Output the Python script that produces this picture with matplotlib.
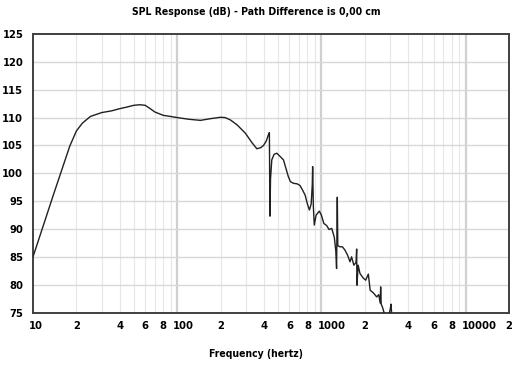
import numpy as np
import matplotlib.pyplot as plt
import matplotlib.transforms as mtransforms

# SPL response
freq = [10, 14, 18, 20, 22, 25, 30, 35, 40, 45, 50, 55, 60, 65, 70, 80, 90,
        100, 120, 145, 170, 199, 215, 233, 260, 297, 330, 357, 380, 397, 415,
        429, 436, 440, 444, 453, 470, 491, 518, 546, 590, 610, 640, 680, 711,
        740, 771, 800, 826, 850, 865, 870, 880, 893, 920, 968, 1000, 1040,
        1089, 1130, 1180, 1230, 1260, 1275, 1290, 1300, 1346, 1400, 1458,
        1520, 1580, 1620, 1680, 1740, 1757, 1765, 1800, 1853, 1950, 2030,
        2118, 2180, 2300, 2420, 2500, 2560, 2578, 2600, 2650, 2750, 2900,
        3000, 3041, 3080, 3200]
spl = [85.0, 96.5, 104.9, 107.6, 109.0, 110.2, 110.9, 111.2, 111.6, 111.9,
       112.2, 112.3, 112.2, 111.6, 111.0, 110.4, 110.2, 110.0, 109.7, 109.5,
       109.8, 110.05, 110.0, 109.6, 108.7, 107.2, 105.5, 104.4, 104.6, 105.0,
       105.8, 106.9, 107.3, 92.3, 99.0, 102.4, 103.4, 103.6, 103.0, 102.4,
       99.4, 98.5, 98.2, 98.1, 97.8, 97.0, 96.1, 94.5, 93.4, 94.5, 98.0,
       101.2, 94.0, 90.7, 92.5, 93.2, 92.5, 91.0, 90.6, 89.9, 90.1, 88.5,
       86.0, 82.9, 95.7, 87.0, 86.8, 86.8, 86.2, 85.3, 84.1, 85.0, 83.5,
       84.0, 86.4, 79.9, 83.5, 82.0, 81.2, 80.8, 81.9, 79.0, 78.5, 77.8,
       78.2, 76.7, 79.6, 76.5, 76.0, 74.6, 74.0, 75.5, 76.5, 74.5, 73.0]

xticks = [10, 20, 40, 60, 80, 100, 200, 400, 600, 800, 1000, 2000, 4000,
          6000, 8000, 10000, 20000]
xticklabels = ['10', '2', '4', '6', '8', '100', '2', '4', '6', '8', '1000',
               '2', '4', '6', '8', '10000', '2']
yticks = [75, 80, 85, 90, 95, 100, 105, 110, 115, 120, 125]

plt.rcParams['font.family'] = 'DejaVu Sans'
plt.rcParams['font.weight'] = 'bold'
plt.rcParams['font.stretch'] = 'condensed'

fig = plt.figure(figsize=(5.12, 3.65), dpi=100)
ax = fig.add_axes([0.0645, 0.1438, 0.9295, 0.763])

ax.set_xscale('log')
ax.set_xlim(10, 20000)
ax.set_ylim(75, 125)

# grid: minor lines at each multiple, decades heavier
for dec in [10, 100, 1000, 10000]:
    for m in range(2, 10):
        f = dec * m
        if f < 20000:
            ax.axvline(f, color='#e6e6e6', lw=0.8, zorder=0)
for f in [100, 1000, 10000]:
    ax.axvline(f, color='#d0d0d0', lw=1.6, zorder=0)
for y in yticks[1:-1]:
    ax.axhline(y, color='#d8d8d8', lw=1.0, zorder=0)

ax.plot(freq, spl, color='#202020', lw=1.0, zorder=3)

ax.set_xticks(xticks)
ax.set_xticklabels(xticklabels)
ax.xaxis.set_minor_locator(plt.NullLocator())
ax.set_yticks(yticks)
ax.tick_params(length=0, labelsize=8, pad=6)
ax.tick_params(axis='y', pad=7)

shift = mtransforms.ScaledTranslation(-4 / 100, 0, fig.dpi_scale_trans)
for lab in ax.get_xticklabels():
    if len(lab.get_text()) > 1:
        lab.set_horizontalalignment('left')
        lab.set_transform(lab.get_transform() + shift)

for s in ax.spines.values():
    s.set_color('#404040')
    s.set_linewidth(1.4)

fig.text(0.5, 1 - 12 / 365, 'SPL Response (dB) - Path Difference is 0,00 cm',
         ha='center', va='center', fontsize=7.5, fontweight='bold')
fig.text(0.5, 1 - 354 / 365, 'Frequency (hertz)',
         ha='center', va='center', fontsize=7.5, fontweight='bold')

fig.savefig('out.png', dpi=100)
